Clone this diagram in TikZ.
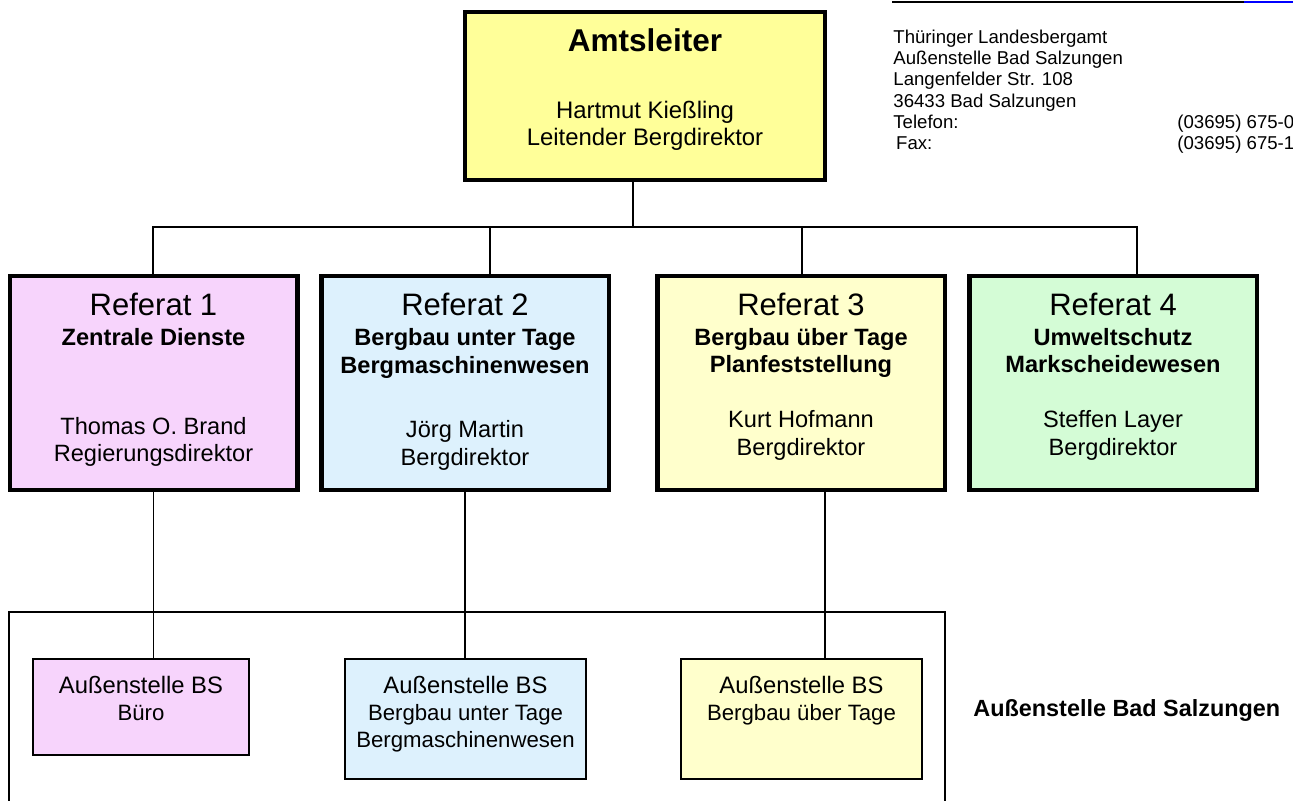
\documentclass[tikz,border=0pt]{standalone}
\usepackage{fontspec}
\setmainfont{Liberation Sans}
\usetikzlibrary{positioning}

\definecolor{amtgelb}{RGB}{255,255,153}
\definecolor{lila}{RGB}{247,212,252}
\definecolor{hellblau}{RGB}{221,241,253}
\definecolor{hellgelb}{RGB}{255,255,204}
\definecolor{hellgruen}{RGB}{212,252,214}

\begin{document}
\begin{tikzpicture}[x=0.5pt, y=-0.5pt,
    chief/.style = {draw, line width=2.25pt, fill=amtgelb, minimum width=180pt, minimum height=84pt},
    referat/.style = {draw, line width=2.25pt, minimum width=143.75pt, minimum height=107pt},
    stelle/.style = {draw, line width=1pt, minimum width=120.5pt, minimum height=60pt},
    txt/.style = {inner sep=0pt, align=center, font=\fontsize{11.8}{13.75}\selectfont},
    small/.style = {inner sep=0pt, align=center, font=\fontsize{11.1}{13.5}\selectfont},
    addr/.style = {inner sep=0pt, align=left, font=\fontsize{9.3}{10.65}\selectfont},
    link/.style = {line width=0.75pt}]

    \useasboundingbox (0,0) rectangle (1293,800);

    \node[chief] (amt) at (645, 96) {};
    \node[txt, font=\fontsize{11.95}{13.5}\selectfont, below=9.5pt of amt.north] (amtt) {{\bfseries\fontsize{15.75}{13.5}\selectfont Amtsleiter}\\[20pt] Hartmut Kießling\\ Leitender Bergdirektor};

    \node[referat, fill=lila] (r1) at (153.5, 383) {};
    \node[referat, fill=hellblau] (r2) at (465, 383) {};
    \node[referat, fill=hellgelb] (r3) at (801, 383) {};
    \node[referat, fill=hellgruen] (r4) at (1113, 383) {};

    \node[txt, below=9.6pt of r1.north] (r1t) {{\fontsize{15.5}{13.75}\selectfont Referat 1}\\[1.1pt] \textbf{Zentrale Dienste}\\[30.75pt] Thomas O. Brand\\ Regierungsdirektor};
    \node[txt, below=9.6pt of r2.north] (r2t) {{\fontsize{15.5}{13.75}\selectfont Referat 2}\\[1.1pt] \textbf{Bergbau unter Tage}\\ \textbf{Bergmaschinenwesen}\\[18.75pt] Jörg Martin\\ Bergdirektor};
    \node[txt, below=9.6pt of r3.north] (r3t) {{\fontsize{15.5}{13.75}\selectfont Referat 3}\\[1.1pt] \textbf{Bergbau über Tage}\\ \textbf{Planfeststellung}\\[13.75pt] Kurt Hofmann\\ Bergdirektor};
    \node[txt, below=9.6pt of r4.north] (r4t) {{\fontsize{15.5}{13.75}\selectfont Referat 4}\\[1.1pt] \textbf{Umweltschutz}\\ \textbf{Markscheidewesen}\\[13.75pt] Steffen Layer\\ Bergdirektor};

    \node[stelle, fill=lila, minimum width=108pt, minimum height=48pt] (b1) at (141, 707) {};
    \node[stelle, fill=hellblau] (b2) at (465.5, 719) {};
    \node[stelle, fill=hellgelb] (b3) at (801.5, 719) {};

    \node[small, below=9pt of b1.north] (b1t) {{\fontsize{11.9}{13.5}\selectfont Außenstelle BS}\\ Büro};
    \node[small, below=9pt of b2.north] (b2t) {{\fontsize{11.9}{13.5}\selectfont Außenstelle BS}\\ Bergbau unter Tage\\ Bergmaschinenwesen};
    \node[small, below=9pt of b3.north] (b3t) {{\fontsize{11.9}{13.5}\selectfont Außenstelle BS}\\ Bergbau über Tage};

    \node[inner sep=0pt, anchor=base west, font=\bfseries\fontsize{11.7}{14}\selectfont] (bs) at (973, 716) {Außenstelle Bad Salzungen};

    \node[addr, anchor=north west] (adr) at (893, 29.4) {Thüringer Landesbergamt\\ Außenstelle Bad Salzungen\\ Langenfelder Str. 108\\ 36433 Bad Salzungen\\ Telefon:\\ \hspace*{1.4pt}Fax:};
    \node[addr, anchor=north west] (tel) at (1177, 114.5) {(03695) 675-0\\ (03695) 675-1};

    \draw[line width=1.4pt] (892, 2) -- (1244, 2);
    \draw[blue, line width=1pt] (1244, 2) -- (1293, 2);

    \coordinate (hub) at (633, 227);
    \coordinate (j1) at (153, 227);
    \coordinate (j2) at (490, 227);
    \coordinate (j3) at (802, 227);
    \coordinate (j4) at (1137, 227);
    \coordinate (k3) at (825, 490);

    \draw[link] (hub |- amt.south) -- (hub);
    \draw[link] (j1 |- r1.north) -- (j1) -- (j4) -- (j4 |- r4.north);
    \draw[link] (j2) -- (j2 |- r2.north);
    \draw[link] (j3) -- (j3 |- r3.north);

    \draw[link] (r1.south) -- (r1.south |- b1.north);
    \draw[link] (r2.south) -- (r2.south |- b2.north);
    \draw[link] (k3 |- r3.south) -- (k3 |- b3.north);

    \draw[line width=0.8pt] (9, 810) -- (9, 612) -- (945, 612) -- (945, 810);

\end{tikzpicture}
\end{document}
